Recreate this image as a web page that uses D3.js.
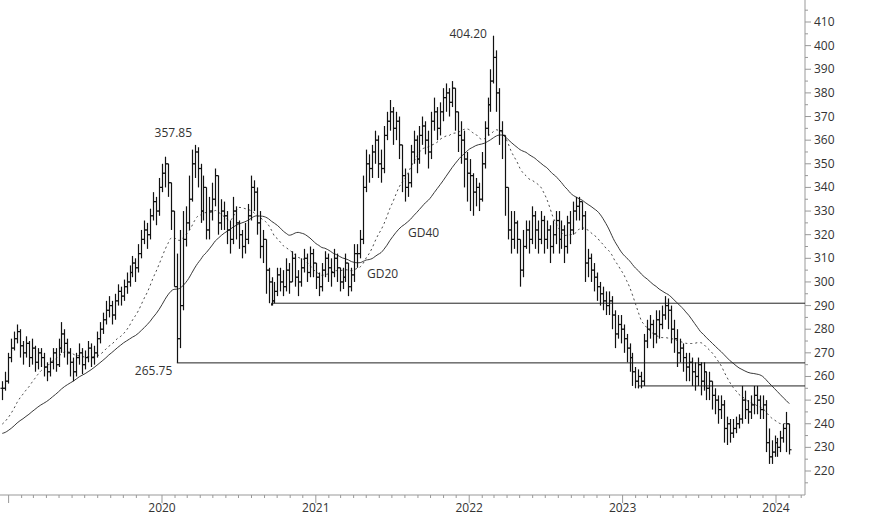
<!DOCTYPE html>
<html><head><meta charset="utf-8">
<script src="https://cdn.jsdelivr.net/npm/d3@7"></script>
<style>body{margin:0;background:#fff}text{font-family:"Open Sans",sans-serif;font-size:12px;fill:#333}</style>
</head><body><svg id="c" width="874" height="515"></svg>
<script>
const startDate = "2018-12-17";
const priorCloses = [243,241,237,235,233,231,234,237,235,232,229,227,230,233,235,231,229,227,225,228,231,234,237,235,233,231,234,238,241,239,235,233,236,239,243,245,242,246,249,252];
const closes = [255,258,268,272,276,279,273,270,274,268,272,266,270,268,264,262,266,270,265,272,278,274,270,266,262,268,270,265,268,272,268,270,276,280,284,288,290,286,292,296,294,298,300,304,308,306,312,318,322,320,328,334,330,340,346,350,342,330,298,276,290,318,325,335,350,355,348,330,340,322,330,335,345,325,330,328,322,318,330,325,320,315,318,328,340,338,325,315,318,305,300,292,296,303,300,298,305,300,310,302,300,306,310,304,312,308,302,298,305,310,306,304,310,306,300,302,308,298,303,312,312,318,340,350,348,355,360,350,348,362,368,372,365,368,358,345,340,342,355,360,352,362,366,360,355,368,372,365,372,378,380,376,382,372,362,360,352,346,345,338,340,335,350,365,375,385,395,380,364,362,340,322,318,325,318,305,315,322,318,328,322,318,326,318,322,315,320,326,318,322,315,325,322,330,332,334,328,308,310,305,302,298,295,292,290,292,286,278,282,280,276,272,268,262,258,260,258,275,280,282,278,284,282,286,290,288,280,276,270,272,268,264,266,262,260,265,258,262,255,258,252,250,246,248,238,240,236,238,240,242,250,246,245,248,252,250,246,248,232,226,228,232,230,234,238,240,229];
const highs = [258,262,270,276,279,282,280,275,277,275,276,273,272,272,270,266,268,272,272,276,283,280,276,272,268,270,274,272,271,275,274,273,279,283,287,292,294,292,295,299,298,301,304,307,311,310,316,322,326,325,331,338,336,344,350,353,348,342,330,312,322,330,332,345,356,358,357,350,345,340,336,342,348,344,335,334,330,326,336,332,326,322,325,333,345,343,340,330,322,318,306,302,300,306,306,305,310,308,313,312,305,310,314,312,315,314,308,304,308,313,312,310,314,312,306,306,312,308,306,316,316,322,345,356,354,358,364,362,356,366,372,377,374,372,370,358,348,346,358,364,362,366,370,368,364,372,378,374,376,382,384,382,385,380,372,368,364,355,352,346,344,342,355,368,378,390,404.2,398,382,368,362,336,330,330,326,318,322,326,326,332,330,326,330,328,326,324,326,330,330,326,324,328,330,334,336,336,334,330,314,312,308,304,300,298,296,296,294,288,286,286,282,278,274,270,264,263,262,278,284,286,284,288,288,290,294,293,290,284,280,276,274,270,270,268,266,268,266,266,262,262,258,255,252,252,250,243,242,242,243,244,256,254,250,252,256,256,252,252,250,238,233,235,234,237,240,245,240];
const lows = [250,254,257,266,271,274,268,265,268,264,265,262,263,264,260,258,260,263,262,264,270,268,265,260,258,260,265,261,263,266,264,265,268,274,278,282,285,282,284,290,290,292,295,298,302,300,304,310,316,314,318,326,324,328,338,340,336,322,300,265.75,272,288,315,322,334,344,340,325,326,318,318,326,332,320,322,322,316,312,316,318,314,310,312,316,326,330,320,310,308,295,291,290,291,294,296,294,296,295,300,298,294,298,304,300,302,302,297,294,296,302,300,298,302,300,296,297,300,294,296,300,306,310,316,338,342,344,350,344,342,346,360,364,358,360,352,338,334,336,340,350,346,350,358,354,348,352,364,360,362,368,372,370,374,364,355,350,340,334,330,328,332,330,334,348,362,372,384,372,358,352,328,318,312,314,312,298,302,314,312,316,314,312,316,312,314,308,312,316,312,314,308,312,316,320,326,326,322,300,302,300,296,292,290,288,286,286,280,272,276,274,270,266,262,256,255,255,255,256,272,276,272,274,276,280,284,280,274,270,264,266,262,258,258,256,254,256,252,254,250,250,246,244,240,242,232,231,232,234,236,238,240,242,240,242,244,244,242,242,228,223,223,226,226,228,232,228,227];
const yTicks = [220,230,240,250,260,270,280,290,300,310,320,330,340,350,360,370,380,390,400,410];
const yearLabels = ["2020","2021","2022","2023","2024"];
const annotations = [{i:65,v:357.85,t:"357.85",dx:-40,dy:-8},{i:59,v:265.75,t:"265.75",dx:-42,dy:12},{i:166,v:404.2,t:"404.20",dx:-44,dy:2}];
const levels = [{i:59,v:265.75},{i:91,v:291},{i:215,v:256}];

const svg = d3.select("#c");
const W = 805, axisY = 495;
const x = d3.scaleTime().domain([new Date(2020,0,1), new Date(2024,0,1)]).range([162,776]);
const y = d3.scaleLinear().domain([220,410]).range([471,22]);
const t0 = new Date(startDate);
const stepDays = 7.04;
const data = closes.map((c,i)=>({d:d3.timeHour.offset(t0,Math.round(i*stepDays*24)),c,h:Math.max(highs[i],c),l:Math.min(lows[i],c),o:i?closes[i-1]:c}));
data.forEach(d=>{d.h=Math.max(d.h,d.o);d.l=Math.min(d.l,d.o);});

svg.append("line").attr("x1",W).attr("x2",W).attr("y1",0).attr("y2",axisY).attr("stroke","#999");
svg.append("line").attr("x1",0).attr("x2",W).attr("y1",axisY).attr("y2",axisY).attr("stroke","#999");
const yMinor = d3.range(215,416,5);
svg.selectAll(".ym").data(yMinor).join("line").attr("x1",W).attr("x2",d=>W+(d%10===0?6:3)).attr("y1",d=>y(d)).attr("y2",d=>y(d)).attr("stroke","#999");
svg.selectAll(".yl").data(yTicks).join("text").attr("x",W+9).attr("y",d=>y(d)+4).text(d=>d);
const months = d3.timeMonth.range(new Date(2019,0,1),new Date(2024,3,1));
svg.selectAll(".xm").data(months).join("line").attr("x1",d=>x(d)).attr("x2",d=>x(d)).attr("y1",axisY).attr("y2",d=>axisY+(d.getMonth()===0?8:3)).attr("stroke","#999");
svg.selectAll(".xl").data(yearLabels).join("text").attr("x",d=>x(new Date(+d,0,1))).attr("y",512).attr("text-anchor","middle").text(d=>d);

svg.selectAll(".lv").data(levels).join("path").attr("fill","none").attr("stroke","#222").attr("stroke-width",1)
 .attr("d",d=>`M${x(data[d.i].d)},${y(data[d.i].l)}V${y(d.v)}H${W}`);

const all = priorCloses.concat(closes);
const off = priorCloses.length;
function sma(n){return data.map((d,i)=>({d:d.d,v:d3.mean(all.slice(i+off-n+1,i+off+1))}));}
const line = d3.line().x(d=>x(d.d)).y(d=>y(d.v)).curve(d3.curveMonotoneX);
svg.append("path").datum(sma(20)).attr("d",line).attr("fill","none").attr("stroke","#333").attr("stroke-width",0.9).attr("stroke-dasharray","2,3");
svg.append("path").datum(sma(40)).attr("d",line).attr("fill","none").attr("stroke","#222").attr("stroke-width",0.9);

const g = svg.append("g").attr("stroke","#111").attr("stroke-width",1.2);
data.forEach(d=>{const cx=Math.round(x(d.d))+0.5;
 g.append("line").attr("x1",cx).attr("x2",cx).attr("y1",y(d.h)).attr("y2",y(d.l));
 g.append("line").attr("x1",cx-2).attr("x2",cx).attr("y1",y(d.o)).attr("y2",y(d.o));
 g.append("line").attr("x1",cx).attr("x2",cx+2).attr("y1",y(d.c)).attr("y2",y(d.c));});

annotations.forEach(a=>svg.append("text").attr("x",x(data[a.i].d)+a.dx).attr("y",y(a.v)+a.dy).text(a.t));
svg.append("text").attr("x",367).attr("y",278).text("GD20");
svg.append("text").attr("x",408).attr("y",237).text("GD40");
</script></body></html>
